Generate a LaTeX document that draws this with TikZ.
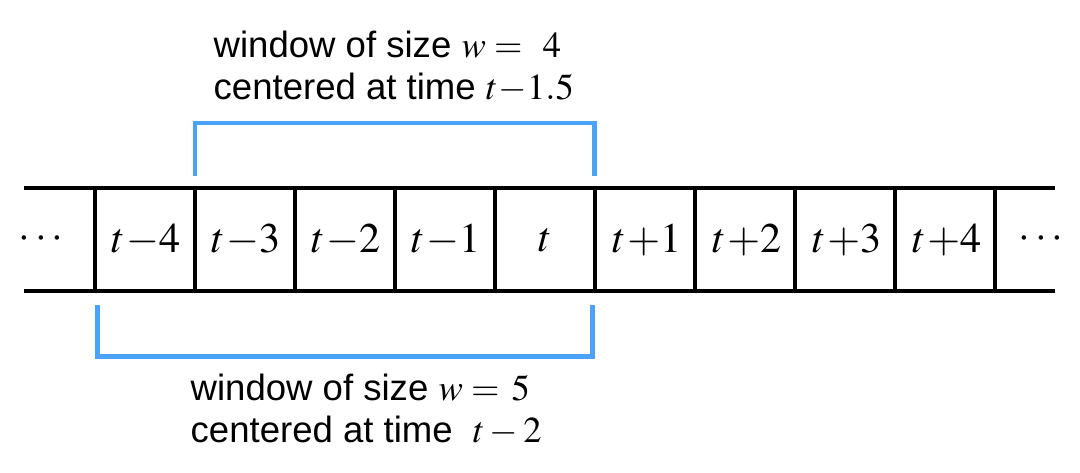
\documentclass[tikz,border=0pt]{standalone}
\usepackage{mathptmx}
\usepackage[no-math]{fontspec}
\newfontfamily\capfont{Liberation Sans}
\definecolor{winblue}{RGB}{74,163,248}
\newcommand{\tm}[1]{t\mkern0.5mu{-}#1}
\newcommand{\tp}[1]{t\mkern0.5mu{+}#1}
\begin{document}
\begin{tikzpicture}[important line/.style={line width=1.4pt},window line/.style={line width=1.4pt,winblue},cell/.style={font=\fontsize{12}{14}\selectfont,inner sep=0pt},caption/.style={font=\capfont\fontsize{10.4}{11.9}\selectfont,align=left,inner sep=0pt}]
		\useasboundingbox (0,0) rectangle (10.8,4.72);
		\draw[important line] (0.24,2.84) -- (10.55,2.84); %top edge of the strip
		\draw[important line] (0.24,1.81) -- (10.55,1.81); %bottom edge of the strip
		\draw[important line] (0.95,1.81) -- (0.95,2.84); %cell walls
		\draw[important line] (1.95,1.81) -- (1.95,2.84);
		\draw[important line] (2.95,1.81) -- (2.95,2.84);
		\draw[important line] (3.95,1.81) -- (3.95,2.84);
		\draw[important line] (4.95,1.81) -- (4.95,2.84);
		\draw[important line] (5.95,1.81) -- (5.95,2.84);
		\draw[important line] (6.95,1.81) -- (6.95,2.84);
		\draw[important line] (7.95,1.81) -- (7.95,2.84);
		\draw[important line] (8.95,1.81) -- (8.95,2.84);
		\draw[important line] (9.95,1.81) -- (9.95,2.84);
		\node[cell] (dotsl) at (0.41,2.33) {$\cdots$}; % cell labels
		\node[cell] (tm4) at (1.46,2.32) {$\tm{4}$};
		\node[cell] (tm3) at (2.46,2.32) {$\tm{3}$};
		\node[cell] (tm2) at (3.46,2.32) {$\tm{2}$};
		\node[cell] (tm1) at (4.46,2.32) {$\tm{1}$};
		\node[cell] (t0) at (5.45,2.32) {$t$};
		\node[cell] (tp1) at (6.47,2.32) {$\tp{1}$};
		\node[cell] (tp2) at (7.47,2.32) {$\tp{2}$};
		\node[cell] (tp3) at (8.47,2.32) {$\tp{3}$};
		\node[cell] (tp4) at (9.47,2.32) {$\tp{4}$};
		\node[cell] (dotsr) at (10.41,2.33) {$\cdots$};
		\draw[window line] (1.95,2.96) -- (1.95,3.49) -- (5.945,3.49) -- (5.945,2.96); %window of size 4
		\draw[window line] (0.975,1.67) -- (0.975,1.155) -- (5.925,1.155) -- (5.925,1.67); %window of size 5
		\node[caption,anchor=base west] (capfour) at (2.13,3.73) {window of size $w=\mkern6mu4$\\centered at time $\tm{1.5}$}; % caption above
		\node[caption,anchor=base west] (capfive) at (1.90,0.30) {window of size $w=\mkern2mu5$\\centered at time\ \ $t-2$}; % caption below
\end{tikzpicture}
\end{document}
